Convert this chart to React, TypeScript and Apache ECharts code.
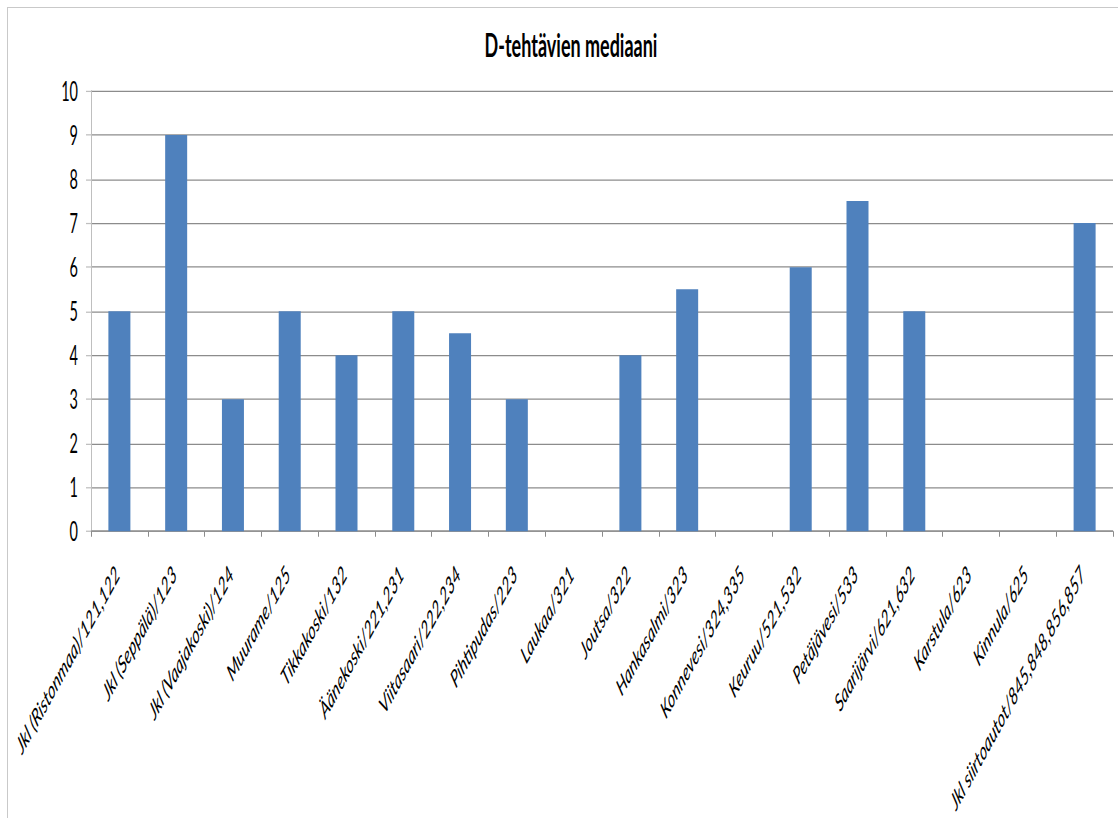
import React, { useEffect, useRef } from "react";
import * as echarts from "echarts";

// Station / area codes along the category axis
const categories: string[] = [
  "Jkl (Ristonmaa)/121,122",
  "Jkl (Seppälä)/123",
  "Jkl (Vaajakoski)/124",
  "Muurame/125",
  "Tikkakoski/132",
  "Äänekoski/221,231",
  "Viitasaari/222,234",
  "Pihtipudas/223",
  "Laukaa/321",
  "Joutsa/322",
  "Hankasalmi/323",
  "Konnevesi/324,335",
  "Keuruu/521,532",
  "Petäjävesi/533",
  "Saarijärvi/621,632",
  "Karstula/623",
  "Kinnula/625",
  "Jkl siirtoautot/845,848,856,857",
];

// Median of D-tasks per area (null = no value)
const medians: (number | null)[] = [
  5, 9, 3, 5, 4, 5, 4.5, 3, null, 4, 5.5, null, 6, 7.5, 5, null, null, 7,
];

const yTicks = { min: 0, max: 10, interval: 1 };

const TITLE = "D-tehtävien mediaani";

// The drawing is laid out in a flatter box and stretched vertically,
// giving tall, narrow lettering and steep category labels.
const STRETCH = 1.81;
const W = 1118;
const H = 818;
const INNER_H = H / STRETCH;

const FONT = "Lato, Carlito, Calibri, sans-serif";

export default function App() {
  const ref = useRef<HTMLDivElement>(null);

  useEffect(() => {
    if (!ref.current) return;
    const chart = echarts.init(ref.current, undefined, { renderer: "svg" });
    chart.setOption({
      animation: false,
      backgroundColor: "transparent",
      title: {
        text: TITLE,
        left: 566,
        top: 10.5,
        textAlign: "center",
        textStyle: {
          fontFamily: FONT,
          fontWeight: "bold",
          fontSize: 18,
          color: "#000000",
        },
      },
      grid: {
        left: 91,
        right: W - 1113,
        top: 91 / STRETCH,
        bottom: INNER_H - 533 / STRETCH,
      },
      xAxis: {
        type: "category",
        data: categories,
        boundaryGap: true,
        axisLine: { show: true, lineStyle: { color: "#8C8C8C", width: 0.7 } },
        axisTick: {
          show: true,
          length: 3,
          lineStyle: { color: "#8C8C8C", width: 1 },
        },
        axisLabel: {
          interval: 0,
          rotate: 45,
          margin: 19,
          padding: [0, 3, 0, 0],
          fontFamily: FONT,
          fontStyle: "italic",
          fontSize: 13.5,
          color: "#000000",
        },
      },
      yAxis: {
        type: "value",
        min: yTicks.min,
        max: yTicks.max,
        interval: yTicks.interval,
        axisLine: { show: true, lineStyle: { color: "#BFBFBF", width: 1 } },
        axisTick: {
          show: true,
          length: 5,
          lineStyle: { color: "#BFBFBF", width: 0.7 },
        },
        axisLabel: {
          margin: 13,
          fontFamily: FONT,
          fontSize: 14.5,
          color: "#000000",
        },
        splitLine: {
          show: true,
          lineStyle: { color: "#8C8C8C", width: 0.7 },
        },
      },
      series: [
        {
          type: "bar",
          data: medians,
          barWidth: 22,
          itemStyle: { color: "#4F81BD" },
        },
      ],
    });
    return () => chart.dispose();
  }, []);

  return (
    <div
      style={{
        position: "fixed",
        left: 0,
        top: 0,
        width: W,
        height: H,
        overflow: "hidden",
        background: "#ffffff",
      }}
    >
      <div
        style={{
          position: "absolute",
          left: 7,
          top: 7,
          width: W + 100,
          height: H + 100,
          border: "1px solid #C9C9C9",
          boxSizing: "border-box",
        }}
      />
      <div
        style={{
          position: "absolute",
          left: 0,
          top: 0,
          width: W,
          height: INNER_H,
          transform: `scaleY(${STRETCH})`,
          transformOrigin: "0 0",
        }}
      >
        <div ref={ref} style={{ width: W, height: INNER_H }} />
      </div>
    </div>
  );
}
